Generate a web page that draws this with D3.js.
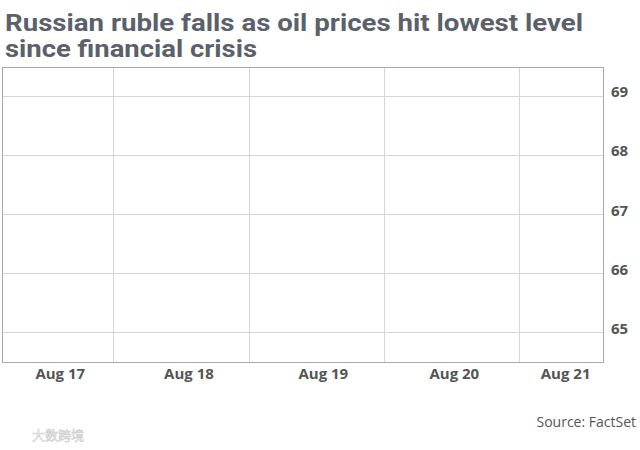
<!DOCTYPE html>
<html>
<head>
<meta charset="utf-8">
<script src="https://cdn.jsdelivr.net/npm/d3@7"></script>
<style>
  html, body { margin: 0; padding: 0; background: #fff; }
  svg { display: block; }
</style>
</head>
<body>
<svg id="chart" width="640" height="450"></svg>
<script>
// ---- Data ----
const titleLines = ["Russian ruble falls as oil prices hit lowest level", "since financial crisis"];
const sourceText = "Source: FactSet";
const watermarkText = "大数跨境";
const xDomain = ["2015-08-17T04:20", "2015-08-21T14:58"];
const dayBoundaries = ["2015-08-18T00:00", "2015-08-19T00:00", "2015-08-20T00:00", "2015-08-21T00:00"];
const xTickDates = ["2015-08-17T14:35", "2015-08-18T13:25", "2015-08-19T13:15", "2015-08-20T12:30", "2015-08-21T08:15"];
const xTickLabels = ["Aug 17", "Aug 18", "Aug 19", "Aug 20", "Aug 21"];
const yDomain = [64.49, 69.48];
const yTicks = [65, 66, 67, 68, 69];
// the reference shows no visible series line
const seriesDates = [];
const seriesValues = [];

// ---- Layout ----
const svg = d3.select("#chart");
const m = { left: 2.5, right: 603.5, top: 67.5, bottom: 362.5 };
const parse = d3.isoParse;

const x = d3.scaleTime().domain(xDomain.map(parse)).range([m.left, m.right]);
const y = d3.scaleLinear().domain(yDomain).range([m.bottom, m.top]);

// Title
const title = svg.append("g");
titleLines.forEach((t, i) => {
  title.append("text")
    .attr("x", 5)
    .attr("y", 30.5 + i * 26.3)
    .attr("font-family", "Roboto, sans-serif")
    .attr("font-weight", 700)
    .attr("font-size", 24)
    .attr("fill", "#5b616b")
    .attr("textLength", i === 0 ? 578 : 252)
    .attr("lengthAdjust", "spacingAndGlyphs")
    .text(t);
});

// Horizontal gridlines
svg.append("g").selectAll("line").data(yTicks).join("line")
  .attr("x1", m.left).attr("x2", m.right)
  .attr("y1", d => Math.round(y(d)) + 0.5).attr("y2", d => Math.round(y(d)) + 0.5)
  .attr("stroke", "#d6d6d6").attr("stroke-width", 1);

// Vertical gridlines at day boundaries
svg.append("g").selectAll("line").data(dayBoundaries).join("line")
  .attr("x1", d => Math.round(x(parse(d))) + 0.5).attr("x2", d => Math.round(x(parse(d))) + 0.5)
  .attr("y1", m.top).attr("y2", m.bottom)
  .attr("stroke", "#d6d6d6").attr("stroke-width", 1);

// Frame
svg.append("rect")
  .attr("x", m.left).attr("y", m.top)
  .attr("width", m.right - m.left).attr("height", m.bottom - m.top)
  .attr("fill", "none").attr("stroke", "#a8a8a8").attr("stroke-width", 1);

// Series line (empty in reference)
const line = d3.line().x((d, i) => x(parse(seriesDates[i]))).y(d => y(d));
svg.append("path").datum(seriesValues)
  .attr("d", seriesValues.length ? line : null)
  .attr("fill", "none").attr("stroke", "#1a8bd1").attr("stroke-width", 2);

// X tick labels
svg.append("g").selectAll("text").data(xTickDates).join("text")
  .attr("x", d => x(parse(d)))
  .attr("y", 378.5)
  .attr("text-anchor", "middle")
  .attr("font-family", "'Open Sans', sans-serif")
  .attr("font-weight", 700)
  .attr("font-size", 15)
  .attr("fill", "#555")
  .text((d, i) => xTickLabels[i]);

// Y tick labels (right side)
svg.append("g").selectAll("text").data(yTicks).join("text")
  .attr("x", 611)
  .attr("y", d => y(d) + 1.5)
  .attr("font-family", "'Open Sans', sans-serif")
  .attr("font-weight", 700)
  .attr("font-size", 15)
  .attr("fill", "#555")
  .text(d => d);

// Source
svg.append("text")
  .attr("x", 636).attr("y", 427)
  .attr("text-anchor", "end")
  .attr("font-family", "'Open Sans', sans-serif")
  .attr("font-size", 14)
  .attr("fill", "#555")
  .text(sourceText);

// Watermark
svg.append("text")
  .attr("x", 32).attr("y", 440)
  .attr("font-family", "'Noto Sans CJK SC', sans-serif")
  .attr("font-size", 13)
  .attr("fill", "#f0f0f0")
  .attr("stroke", "#cfcfcf").attr("stroke-width", 0.6)
  .text(watermarkText);
</script>
</body>
</html>
